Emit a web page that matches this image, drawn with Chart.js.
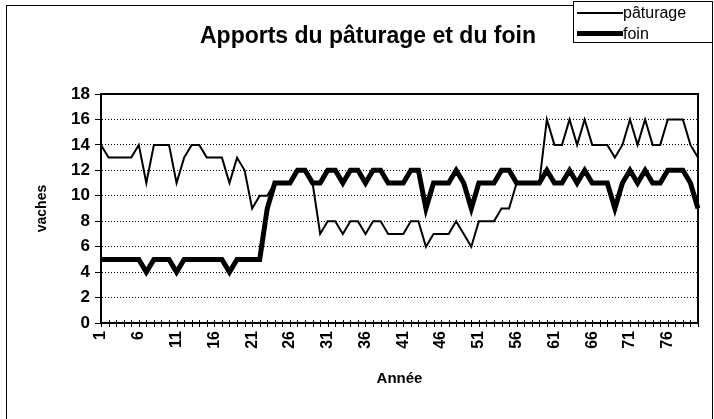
<!DOCTYPE html>
<html>
<head>
<meta charset="utf-8">
<script src="https://cdn.jsdelivr.net/npm/chart.js@4/dist/chart.umd.min.js"></script>
<style>
  body { margin: 0; background: #fff; }
  #wrap { position: relative; width: 714px; height: 419px; overflow: hidden; font-family: 'Liberation Sans', Arial, sans-serif; }
  #frame { position: absolute; left: 6px; top: 5px; width: 705px; height: 430px; border: 1px solid #000; }
  #title { position: absolute; left: 168px; width: 400px; top: 22px; text-align: center; font-weight: bold; font-size: 23px; color: #000; white-space: nowrap; }
  #legend { position: absolute; left: 573px; top: 1px; width: 138px; height: 40px; border: 1px solid #000; background: #fff; font-size: 16px; }
  #legend .item { position: absolute; left: 3px; height: 18px; line-height: 18px; white-space: nowrap; }
  #legend .swatch { display: inline-block; width: 46px; vertical-align: middle; background: #000; }
  #legend span.txt { vertical-align: middle; }
  canvas { position: absolute; left: 0; top: 0; }
</style>
</head>
<body>
<div id="wrap">
  <div id="frame"></div>
  <canvas id="chart" width="714" height="419"></canvas>
  <div id="title">Apports du pâturage et du foin</div>
  <div id="legend"></div>
</div>
<script>
// année 1 .. 80
const years = Array.from({ length: 80 }, (_, i) => String(i + 1));

const paturage = [
  14, 13, 13, 13, 13, 14, 11, 14, 14, 14,
  11, 13, 14, 14, 13, 13, 13, 11, 13, 12,
  9, 10, 10, 11, 11, 11, 12, 12, 11, 7,
  8, 8, 7, 8, 8, 7, 8, 8, 7, 7,
  7, 8, 8, 6, 7, 7, 7, 8, 7, 6,
  8, 8, 8, 9, 9, 11, 11, 11, 11, 16,
  14, 14, 16, 14, 16, 14, 14, 14, 13, 14,
  16, 14, 16, 14, 14, 16, 16, 16, 14, 13,
];

const foin = [
  5, 5, 5, 5, 5, 5, 4, 5, 5, 5,
  4, 5, 5, 5, 5, 5, 5, 4, 5, 5,
  5, 5, 9, 11, 11, 11, 12, 12, 11, 11,
  12, 12, 11, 12, 12, 11, 12, 12, 11, 11,
  11, 12, 12, 9, 11, 11, 11, 12, 11, 9,
  11, 11, 11, 12, 12, 11, 11, 11, 11, 12,
  11, 11, 12, 11, 12, 11, 11, 11, 9, 11,
  12, 11, 12, 11, 11, 12, 12, 12, 11, 9,
];

const yTicks = [0, 2, 4, 6, 8, 10, 12, 14, 16, 18];

const font = 'Liberation Sans';

// plot frame + cross ticks on the category axis
const frame = {
  id: 'frame',
  afterDraw(chart) {
    const { ctx, chartArea: a, scales } = chart;
    ctx.save();
    ctx.strokeStyle = '#000';
    ctx.lineWidth = 2;
    ctx.strokeRect(a.left, a.top, a.right - a.left, a.bottom - a.top);
    const x = scales.x;
    ctx.lineWidth = 1;
    ctx.beginPath();
    for (let i = 0; i < years.length; i++) {
      const px = Math.round(x.getPixelForTick(i)) + 0.5;
      ctx.moveTo(px, a.bottom - 3);
      ctx.lineTo(px, a.bottom + 4);
    }
    ctx.stroke();
    ctx.restore();
  }
};

const datasets = [
  { label: 'pâturage', data: paturage, borderColor: '#000', borderWidth: 2, pointRadius: 0, tension: 0 },
  { label: 'foin', data: foin, borderColor: '#000', borderWidth: 5, pointRadius: 0, tension: 0 },
];

new Chart(document.getElementById('chart'), {
  type: 'line',
  data: { labels: years, datasets },
  options: {
    responsive: false,
    devicePixelRatio: 1,
    animation: false,
    layout: { padding: { top: 94, right: 16, left: 34, bottom: 27 } },
    plugins: { legend: { display: false }, title: { display: false }, tooltip: { enabled: false } },
    scales: {
      x: {
        type: 'category',
        offset: false,
        grid: { display: false, drawTicks: false },
        border: { display: true, color: '#000', width: 1 },
        ticks: {
          autoSkip: false, minRotation: 90, maxRotation: 90, padding: 8,
          color: '#000', font: { family: font, size: 16, weight: 'bold' },
          callback: (v, i) => (i % 5 === 0 ? years[i] : ''),
        },
        title: { display: true, text: 'Année', color: '#000', font: { family: font, size: 15, weight: 'bold' }, padding: { top: 4, bottom: 4 } },
        afterFit: s => { s.height = 69; s.paddingLeft = 0; s.paddingRight = 0; },
      },
      y: {
        min: 0, max: 18,
        afterBuildTicks: s => { s.ticks = yTicks.map(v => ({ value: v })); },
        grid: { color: '#000', lineWidth: 1, tickLength: 6, tickBorderDash: [], drawTicks: true },
        border: { display: true, color: '#000', width: 2, dash: [1, 2] },
        ticks: { color: '#000', padding: 5, font: { family: font, size: 17, weight: 'bold' } },
        title: { display: true, text: 'vaches', color: '#000', font: { family: font, size: 14, weight: 'bold' }, padding: 0 },
        afterFit: s => { s.width = 67; s.paddingTop = 0; s.paddingBottom = 0; },
      },
    },
  },
  plugins: [frame],
});

// legend box
const legend = document.getElementById('legend');
datasets.forEach((d, i) => {
  const item = document.createElement('div');
  item.className = 'item';
  item.style.top = (1 + i * 21) + 'px';
  item.innerHTML = '<span class="swatch" style="height:' + d.borderWidth + 'px"></span><span class="txt">' + d.label + '</span>';
  legend.appendChild(item);
});
</script>
</body>
</html>
